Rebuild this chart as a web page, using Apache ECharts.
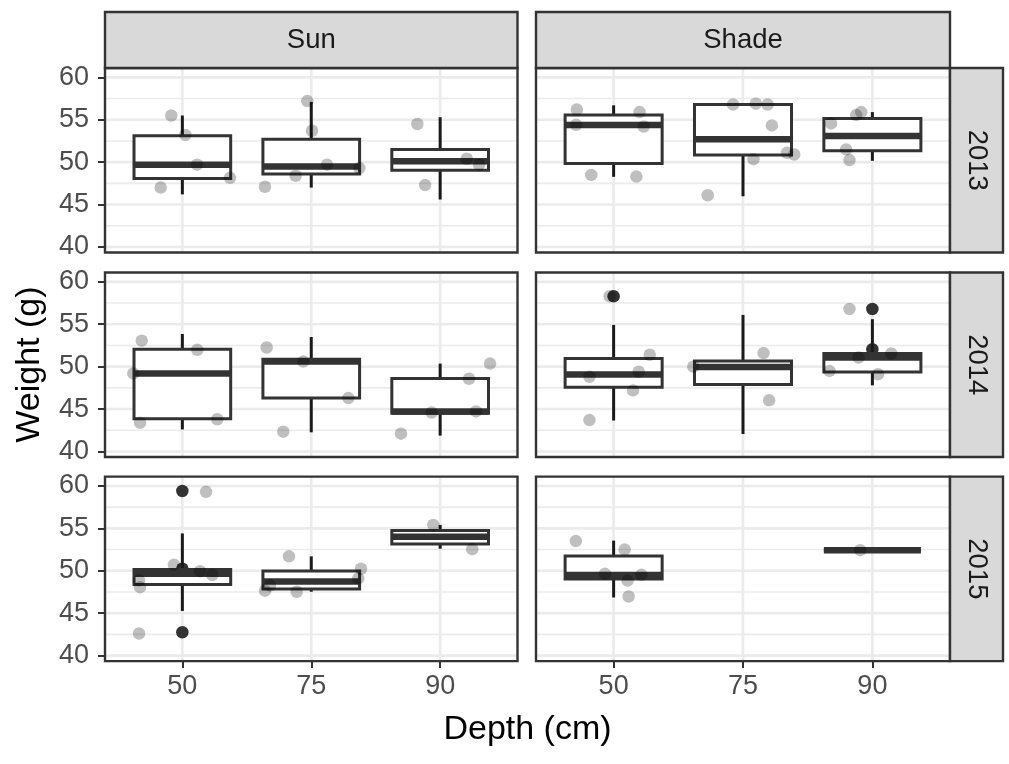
<!DOCTYPE html>
<html><head><meta charset="utf-8">
<script src="https://cdn.jsdelivr.net/npm/echarts@6/dist/echarts.min.js"></script>
<style>html,body{margin:0;padding:0;background:#fff}#c{width:1009px;height:764px}</style>
</head><body><div id="c"></div>
<script>
// ---------------- data ----------------
const depthLabels = ['50', '75', '90'];          // x categories (positions 1,2,3)
const lights = ['Sun', 'Shade'];                 // facet columns
const years = ['2013', '2014', '2015'];          // facet rows
const yTicks = [40, 45, 50, 55, 60];
const yMinorGrid = [42.5, 47.5, 52.5, 57.5];
const xTicks = [1, 2, 3];

// box statistics per depth: [lowerWhisker, Q1, median, Q3, upperWhisker]
const boxSun2013 = [[46.2, 48.07, 49.7, 53.1, 55.5], [47.0, 48.6, 49.5, 52.7, 57.1], [45.6, 49.06, 50.1, 51.5, 55.3]];
const boxShade2013 = [[48.27, 49.84, 54.37, 55.55, 56.7], [45.98, 50.83, 52.7, 56.8, 56.8], [50.16, 51.34, 53.07, 55.16, 55.9]];
const boxSun2014 = [[42.6, 43.85, 49.2, 52.06, 53.85], [42.26, 46.3, 50.6, 50.87, 53.5], [41.87, 44.52, 44.72, 48.61, 50.36]];
const boxShade2014 = [[43.65, 47.58, 49.09, 50.95, 54.92], [42.06, 47.9, 49.96, 50.67, 56.1], [47.8, 49.37, 51.07, 51.55, 55.6]];
const boxSun2015 = [[45.26, 48.37, 49.64, 50.16, 54.4], [47.53, 47.85, 48.73, 49.96, 51.7], [52.6, 53.15, 54.0, 54.74, 55.4]];
const boxShade2015 = [[46.85, 49.04, 49.5, 51.75, 53.55], null, [52.43, 52.43, 52.43, 52.43, 52.43]];

// dark (outlier) points: [xPosition, weight]
const darkSun2013 = [];
const darkShade2013 = [];
const darkSun2014 = [];
const darkShade2014 = [[1, 58.3], [3, 56.8], [3, 52.06]];
const darkSun2015 = [[1, 59.4], [1, 42.75], [1, 50.24]];
const darkShade2015 = [];

// jittered raw observations: [jitteredX, weight]
const ptsSun2013 = [[0.914, 55.5], [1.023, 53.2], [1.114, 49.7], [0.832, 47.0], [1.370, 48.15],
  [1.969, 57.2], [2.006, 53.7], [2.122, 49.7], [2.373, 49.3], [1.879, 48.4], [1.641, 47.1],
  [2.823, 54.5], [3.206, 50.4], [3.302, 49.7], [2.883, 47.3]];
const ptsShade2013 = [[0.716, 56.2], [0.710, 54.4], [1.201, 55.9], [1.232, 54.2], [0.827, 48.5], [1.176, 48.3],
  [1.923, 56.8], [2.099, 56.9], [2.190, 56.8], [2.223, 54.33], [2.081, 50.35], [2.340, 51.1], [2.396, 50.9], [1.727, 46.1],
  [2.914, 55.9], [2.875, 55.55], [2.681, 54.57], [2.797, 51.5], [2.823, 50.24]];
const ptsSun2014 = [[0.685, 53.06], [1.116, 51.98], [0.620, 49.2], [0.672, 43.4], [1.271, 43.8],
  [1.654, 52.26], [1.938, 50.6], [2.288, 46.3], [1.783, 42.34],
  [3.387, 50.36], [3.224, 48.57], [2.934, 44.6], [3.278, 44.72], [2.696, 42.1]];
const ptsShade2014 = [[0.969, 58.3], [0.813, 48.8], [1.279, 51.4], [1.194, 49.4], [1.150, 47.2], [0.813, 43.7],
  [1.616, 50.0], [2.159, 51.6], [2.202, 46.03],
  [2.823, 56.8], [2.893, 51.07], [3.146, 51.55], [2.668, 49.5], [3.043, 49.1]];
const ptsSun2015 = [[1.184, 59.3], [0.664, 42.6], [0.935, 50.7], [1.137, 49.95], [1.232, 49.5], [0.672, 48.07], [0.664, 48.87],
  [1.827, 51.7], [2.386, 50.24], [2.365, 49.1], [1.680, 48.25], [1.641, 47.65], [1.887, 47.53],
  [2.947, 55.4], [3.249, 52.55]];
const ptsShade2015 = [[0.708, 53.5], [1.085, 52.5], [0.933, 49.64], [1.215, 49.52], [1.108, 48.84], [1.116, 46.97],
  [2.906, 52.43]];

// ---------------- layout / style ----------------
const FONT = '"Liberation Sans", Arial, Helvetica, sans-serif';
const X_MIN = 0.4, X_MAX = 3.6, Y_MIN = 39.35, Y_MAX = 61.1;
const colLeft = [105, 536], colWidth = [412.5, 414];
const rowTop = [68, 272.5, 476.6], rowH = 184.5;
const stripTop = 12, stripRightW = 53;
const AXIS_FS = 27, STRIP_FS = 27.5, TITLE_FS = 34;

const panels = [
  { c: 0, r: 0, box: boxSun2013, dark: darkSun2013, pts: ptsSun2013 },
  { c: 1, r: 0, box: boxShade2013, dark: darkShade2013, pts: ptsShade2013 },
  { c: 0, r: 1, box: boxSun2014, dark: darkSun2014, pts: ptsSun2014 },
  { c: 1, r: 1, box: boxShade2014, dark: darkShade2014, pts: ptsShade2014 },
  { c: 0, r: 2, box: boxSun2015, dark: darkSun2015, pts: ptsSun2015 },
  { c: 1, r: 2, box: boxShade2015, dark: darkShade2015, pts: ptsShade2015 }
];

const grids = [], xAxes = [], yAxes = [], series = [], graphics = [];

function renderGridLines(params, api) {
  const orient = api.value(0), v = api.value(1), major = api.value(2);
  let p1, p2;
  if (orient === 0) { p1 = api.coord([X_MIN, v]); p2 = api.coord([X_MAX, v]); }
  else { p1 = api.coord([v, Y_MIN]); p2 = api.coord([v, Y_MAX]); }
  return { type: 'line', shape: { x1: p1[0], y1: p1[1], x2: p2[0], y2: p2[1] },
    style: { stroke: '#EBEBEB', lineWidth: major ? 2.6 : 1.6 } };
}

function renderBox(params, api) {
  const x = api.value(0), lo = api.value(1), q1 = api.value(2), md = api.value(3), q3 = api.value(4), hi = api.value(5);
  const hw = 0.375;
  const pHi = api.coord([x, hi]), pLo = api.coord([x, lo]);
  const pTop = api.coord([x - hw, q3]), pBot = api.coord([x + hw, q1]);
  const pML = api.coord([x - hw, md]), pMR = api.coord([x + hw, md]);
  return { type: 'group', children: [
    { type: 'line', shape: { x1: pHi[0], y1: pHi[1], x2: pHi[0], y2: pTop[1] }, style: { stroke: '#1a1a1a', lineWidth: 3 } },
    { type: 'line', shape: { x1: pLo[0], y1: pBot[1], x2: pLo[0], y2: pLo[1] }, style: { stroke: '#1a1a1a', lineWidth: 3 } },
    { type: 'rect', shape: { x: pTop[0], y: pTop[1], width: pBot[0] - pTop[0], height: pBot[1] - pTop[1] },
      style: { fill: '#fff', stroke: '#333', lineWidth: 3 } },
    { type: 'line', shape: { x1: pML[0], y1: pML[1], x2: pMR[0], y2: pMR[1] }, style: { stroke: '#333', lineWidth: 6.5 } }
  ] };
}

const gridLineData = [];
yTicks.forEach(v => gridLineData.push([0, v, 1]));
yMinorGrid.forEach(v => gridLineData.push([0, v, 0]));
xTicks.forEach(v => gridLineData.push([1, v, 1]));

panels.forEach((p, i) => {
  const isBottom = p.r === 2, isLeft = p.c === 0;
  grids.push({ left: colLeft[p.c], top: rowTop[p.r], width: colWidth[p.c], height: rowH,
    show: true, backgroundColor: '#fff', borderWidth: 0 });
  xAxes.push({ type: 'value', gridIndex: i, min: X_MIN, max: X_MAX,
    axisLine: { show: false }, splitLine: { show: false },
    axisTick: { show: isBottom, customValues: xTicks, length: 7, lineStyle: { color: '#333', width: 2 } },
    axisLabel: { show: isBottom, customValues: xTicks, formatter: v => depthLabels[Math.round(v) - 1],
      color: '#4D4D4D', fontSize: AXIS_FS, fontFamily: FONT, margin: 12 } });
  yAxes.push({ type: 'value', gridIndex: i, min: Y_MIN, max: Y_MAX,
    axisLine: { show: false }, splitLine: { show: false },
    axisTick: { show: isLeft, customValues: yTicks, length: 7, lineStyle: { color: '#333', width: 2 } },
    axisLabel: { show: isLeft, customValues: yTicks, color: '#4D4D4D', fontSize: AXIS_FS, fontFamily: FONT, margin: 16 } });

  series.push({ type: 'custom', xAxisIndex: i, yAxisIndex: i, z: 1, silent: true,
    renderItem: renderGridLines, data: gridLineData });
  series.push({ type: 'scatter', xAxisIndex: i, yAxisIndex: i, z: 2, symbolSize: 12.5,
    itemStyle: { color: '#333', opacity: 1 }, data: p.dark });
  const boxData = [];
  p.box.forEach((b, k) => { if (b) boxData.push([k + 1].concat(b)); });
  series.push({ type: 'custom', xAxisIndex: i, yAxisIndex: i, z: 3,
    renderItem: renderBox, encode: { x: 0, y: [1, 2, 3, 4, 5] }, data: boxData });
  series.push({ type: 'scatter', xAxisIndex: i, yAxisIndex: i, z: 4, symbolSize: 12.5,
    itemStyle: { color: 'rgba(0,0,0,0.25)', opacity: 1 }, data: p.pts });

  // panel border
  graphics.push({ type: 'rect', z: 100, silent: true,
    shape: { x: colLeft[p.c], y: rowTop[p.r], width: colWidth[p.c], height: rowH },
    style: { fill: 'none', stroke: '#333', lineWidth: 2.4 } });
});

// top strips
lights.forEach((name, c) => {
  graphics.push({ type: 'rect', z: 100, silent: true,
    shape: { x: colLeft[c], y: stripTop, width: colWidth[c], height: rowTop[0] - stripTop },
    style: { fill: '#D9D9D9', stroke: '#333', lineWidth: 2.4 } });
  graphics.push({ type: 'text', z: 101, silent: true,
    x: colLeft[c] + colWidth[c] / 2, y: (stripTop + rowTop[0]) / 2,
    style: { text: name, font: STRIP_FS + 'px ' + FONT, fill: '#1A1A1A', align: 'center', verticalAlign: 'middle' } });
});
// right strips
const rightX = colLeft[1] + colWidth[1];
years.forEach((name, r) => {
  graphics.push({ type: 'rect', z: 100, silent: true,
    shape: { x: rightX, y: rowTop[r], width: stripRightW, height: rowH },
    style: { fill: '#D9D9D9', stroke: '#333', lineWidth: 2.4 } });
  graphics.push({ type: 'text', z: 101, silent: true,
    x: rightX + stripRightW / 2, y: rowTop[r] + rowH / 2, rotation: -Math.PI / 2,
    style: { text: name, font: STRIP_FS + 'px ' + FONT, fill: '#1A1A1A', align: 'center', verticalAlign: 'middle' } });
});
// axis titles
graphics.push({ type: 'text', z: 101, silent: true, x: 30, y: (rowTop[0] + rowTop[2] + rowH) / 2, rotation: Math.PI / 2,
  style: { text: 'Weight (g)', font: TITLE_FS + 'px ' + FONT, fill: '#000', align: 'center', verticalAlign: 'middle' } });
graphics.push({ type: 'text', z: 101, silent: true, x: (colLeft[0] + colLeft[1] + colWidth[1]) / 2, y: 730,
  style: { text: 'Depth (cm)', font: TITLE_FS + 'px ' + FONT, fill: '#000', align: 'center', verticalAlign: 'middle' } });

const chart = echarts.init(document.getElementById('c'), null, { renderer: 'canvas' });
chart.setOption({
  animation: false,
  backgroundColor: '#fff',
  grid: grids, xAxis: xAxes, yAxis: yAxes, series: series,
  graphic: { elements: graphics }
});
</script>
</body></html>
